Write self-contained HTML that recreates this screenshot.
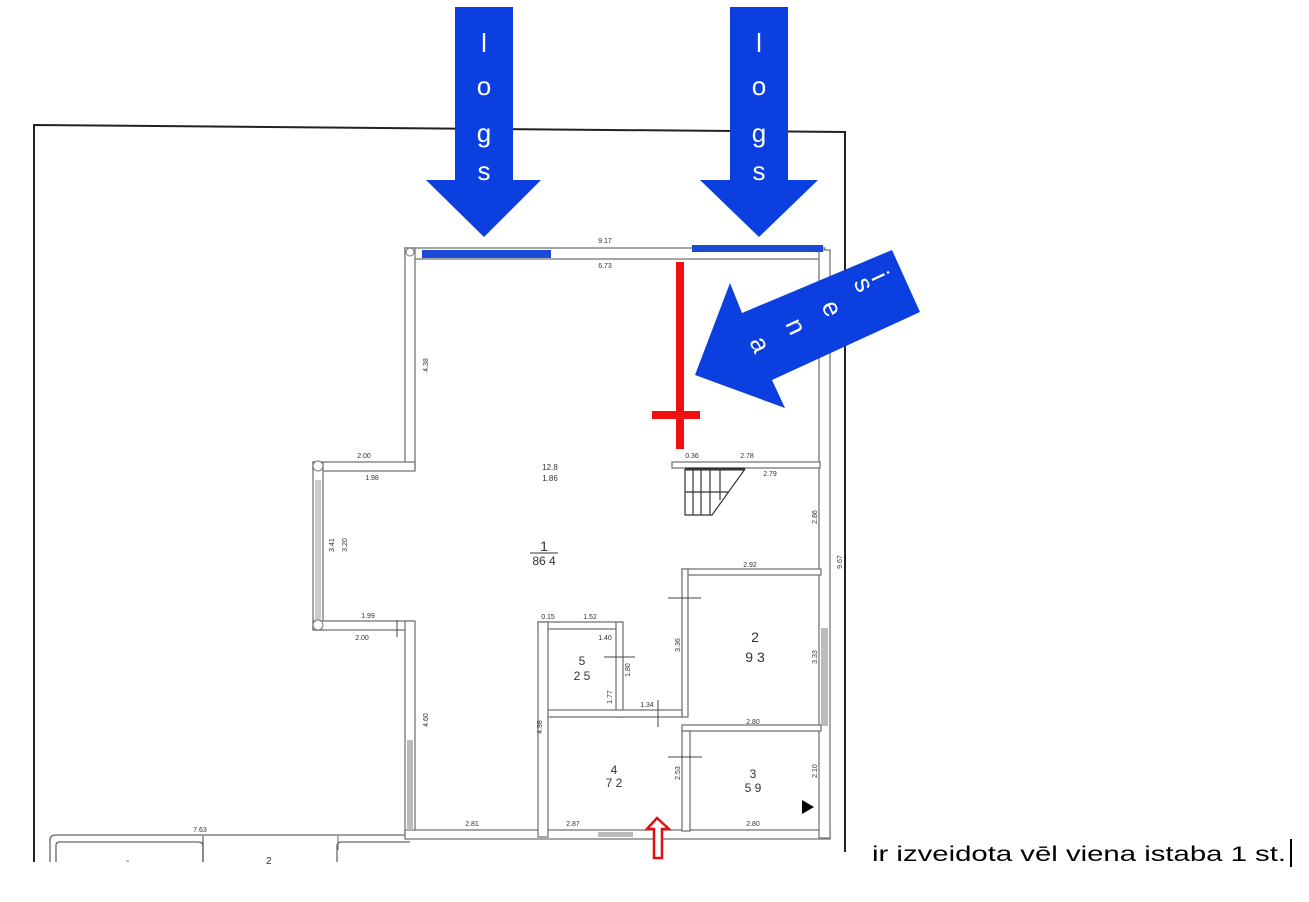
<!DOCTYPE html>
<html><head><meta charset="utf-8"><style>
html,body{margin:0;padding:0;background:#fff;}
svg{display:block;}
.w{fill:#fff;stroke:#777;stroke-width:1.3;}
.d{font-family:"Liberation Sans",sans-serif;font-size:7px;fill:#333;}
.r{font-family:"Liberation Sans",sans-serif;fill:#333;}
.a{font-family:"Liberation Sans",sans-serif;font-size:26px;fill:#fff;text-anchor:middle;}
</style></head><body>
<svg width="1309" height="902" viewBox="0 0 1309 902" xmlns="http://www.w3.org/2000/svg">
<rect width="1309" height="902" fill="#fff"/>
<polyline points="34,862 34,125 845,132 845,852" fill="none" stroke="#222" stroke-width="2"/>
<path d="M50,862 V840 Q50,835 56,835 H410" fill="none" stroke="#666" stroke-width="1.3"/>
<path d="M56,862 V845 Q56,842 60,842 H198 Q203,842 203,846 V862" fill="none" stroke="#666" stroke-width="1.3"/>
<line x1="203" y1="836" x2="203" y2="862" stroke="#666" stroke-width="1.3"/>
<path d="M337,862 V846 Q337,842 342,842 H410" fill="none" stroke="#666" stroke-width="1.3"/>
<line x1="338" y1="836" x2="338" y2="850" stroke="#666" stroke-width="1"/>
<text class="d" x="200" y="832" text-anchor="middle">7.63</text>
<text class="r" x="126" y="864" font-size="10">-</text>
<text class="r" x="266" y="864" font-size="10">2</text>
<rect class="w" x="405" y="248" width="420" height="11"/>
<rect class="w" x="405" y="248" width="10" height="220"/>
<rect class="w" x="313" y="462" width="102" height="9"/>
<rect class="w" x="313" y="462" width="10" height="168"/>
<rect class="w" x="313" y="621" width="100" height="9"/>
<rect class="w" x="405" y="621" width="10" height="216"/>
<rect class="w" x="405" y="830" width="425" height="9"/>
<rect class="w" x="819" y="250" width="11" height="588"/>
<rect x="407" y="740" width="6" height="90" fill="#bbb"/>
<rect x="821" y="628" width="7" height="98" fill="#bbb"/>
<rect x="315" y="480" width="6" height="140" fill="#ccc"/>
<circle cx="318" cy="466" r="5" fill="#fff" stroke="#777"/>
<circle cx="318" cy="625" r="5" fill="#fff" stroke="#777"/>
<circle cx="410" cy="252" r="4" fill="#fff" stroke="#777"/>
<rect class="w" x="672" y="462" width="148" height="6"/>
<g stroke="#333" fill="none" stroke-width="1.2">
<line x1="685" y1="469" x2="745" y2="469" stroke-width="3"/>
<polyline points="745,469 712,515 685,515 685,469"/>
<line x1="685" y1="492" x2="728" y2="492"/>
<line x1="693" y1="469" x2="693" y2="515"/><line x1="701" y1="469" x2="701" y2="515"/>
<line x1="710" y1="469" x2="710" y2="515"/><line x1="720" y1="469" x2="720" y2="500"/>
</g>
<rect class="w" x="682" y="569" width="139" height="6"/>
<rect class="w" x="682" y="569" width="6" height="148"/>
<rect class="w" x="682" y="725" width="139" height="6"/>
<rect class="w" x="682" y="731" width="8" height="100"/>
<rect class="w" x="538" y="622" width="84" height="7"/>
<rect class="w" x="538" y="622" width="10" height="215"/>
<rect class="w" x="616" y="622" width="7" height="95"/>
<rect class="w" x="548" y="710" width="134" height="7"/>
<rect x="598" y="832" width="35" height="5" fill="#bbb"/>
<g stroke="#444" stroke-width="1">
<line x1="668" y1="598" x2="701" y2="598"/><line x1="668" y1="757" x2="702" y2="757"/>
<line x1="604" y1="657" x2="635" y2="657"/><line x1="658" y1="700" x2="658" y2="727"/>
<line x1="397" y1="620" x2="397" y2="637"/>
</g>
<path d="M802,800 l12,7 l-12,7z" fill="#000"/>
<text class="d" x="605" y="243" text-anchor="middle">9.17</text>
<text class="d" x="605" y="268" text-anchor="middle">6.73</text>
<text class="d" x="364" y="458" text-anchor="middle">2.00</text>
<text class="d" x="372" y="480" text-anchor="middle">1.98</text>
<text class="d" x="368" y="618" text-anchor="middle">1.99</text>
<text class="d" x="362" y="640" text-anchor="middle">2.00</text>
<text class="d" x="472" y="826" text-anchor="middle">2.81</text>
<text class="d" x="573" y="826" text-anchor="middle">2.87</text>
<text class="d" x="753" y="826" text-anchor="middle">2.80</text>
<text class="d" x="753" y="724" text-anchor="middle">2.80</text>
<text class="d" x="750" y="567" text-anchor="middle">2.92</text>
<text class="d" x="747" y="458" text-anchor="middle">2.78</text>
<text class="d" x="770" y="476" text-anchor="middle">2.79</text>
<text class="d" x="692" y="458" text-anchor="middle">0.36</text>
<text class="d" x="590" y="619" text-anchor="middle">1.52</text>
<text class="d" x="548" y="619" text-anchor="middle">0.15</text>
<text class="d" x="605" y="640" text-anchor="middle">1.40</text>
<text class="d" x="647" y="707" text-anchor="middle">1.34</text>
<text class="r" x="550" y="470" font-size="8" text-anchor="middle">12.8</text>
<text class="r" x="550" y="481" font-size="8" text-anchor="middle">1.86</text>
<text class="r" x="544" y="551" font-size="14" text-anchor="middle">1</text>
<line x1="530" y1="553" x2="558" y2="553" stroke="#333"/>
<text class="r" x="544" y="565" font-size="12" text-anchor="middle">86 4</text>
<text class="r" x="755" y="642" font-size="14" text-anchor="middle">2</text>
<text class="r" x="755" y="662" font-size="14" text-anchor="middle">9 3</text>
<text class="r" x="582" y="665" font-size="12" text-anchor="middle">5</text>
<text class="r" x="582" y="680" font-size="12" text-anchor="middle">2 5</text>
<text class="r" x="614" y="774" font-size="12" text-anchor="middle">4</text>
<text class="r" x="614" y="787" font-size="12" text-anchor="middle">7 2</text>
<text class="r" x="753" y="778" font-size="12" text-anchor="middle">3</text>
<text class="r" x="753" y="792" font-size="12" text-anchor="middle">5 9</text>
<g class="d" text-anchor="middle">
<text transform="translate(428,365) rotate(-90)">4.38</text>
<text transform="translate(334,545) rotate(-90)">3.41</text>
<text transform="translate(347,545) rotate(-90)">3.20</text>
<text transform="translate(428,720) rotate(-90)">4.60</text>
<text transform="translate(542,727) rotate(-90)">4.98</text>
<text transform="translate(680,645) rotate(-90)">3.36</text>
<text transform="translate(630,670) rotate(-90)">1.80</text>
<text transform="translate(612,697) rotate(-90)">1.77</text>
<text transform="translate(680,773) rotate(-90)">2.53</text>
<text transform="translate(817,517) rotate(-90)">2.86</text>
<text transform="translate(842,562) rotate(-90)">9.67</text>
<text transform="translate(817,657) rotate(-90)">3.33</text>
<text transform="translate(817,771) rotate(-90)">2.10</text>
</g>
<rect x="422" y="250" width="129" height="8" fill="#1a4ad6"/>
<rect x="692" y="245" width="131" height="7" fill="#1a4ad6"/>
<rect x="676" y="262" width="8" height="187" fill="#f01010"/>
<rect x="652" y="411" width="48" height="8" fill="#f01010"/>
<path d="M657,818 L647,829 L654,829 L654,858 L662,858 L662,829 L669,829 Z" fill="#fff" stroke="#e01010" stroke-width="2.5"/>
<polygon points="455,7 513,7 513,180 541,180 484,237 426,180 455,180" fill="#0b3fe0"/>
<polygon points="730,7 788,7 788,180 818,180 759,237 700,180 730,180" fill="#0b3fe0"/>
<g class="a">
<text x="484" y="52">l</text><text x="484" y="95">o</text><text x="484" y="142">g</text><text x="484" y="180">s</text>
<text x="759" y="52">l</text><text x="759" y="95">o</text><text x="759" y="142">g</text><text x="759" y="180">s</text>
</g>
<polygon points="892,250 742,313 730,283 695,375 785,408 772,380 920,312" fill="#0b3fe0"/>
<g class="a" font-size="23">
<text transform="translate(856,288) rotate(65)">s</text>
<text transform="translate(872,280) rotate(65)">i</text>
<text transform="translate(824,312) rotate(65)">e</text>
<text transform="translate(788,330) rotate(65)">n</text>
<text transform="translate(752,348) rotate(65)">a</text>
</g>
<text x="872" y="861" font-family="'Liberation Sans',sans-serif" font-size="21" fill="#000" textLength="414" lengthAdjust="spacingAndGlyphs">ir izveidota vēl viena istaba 1 st.</text>
<rect x="1290" y="839" width="2" height="28" fill="#000"/>
</svg>
</body></html>
